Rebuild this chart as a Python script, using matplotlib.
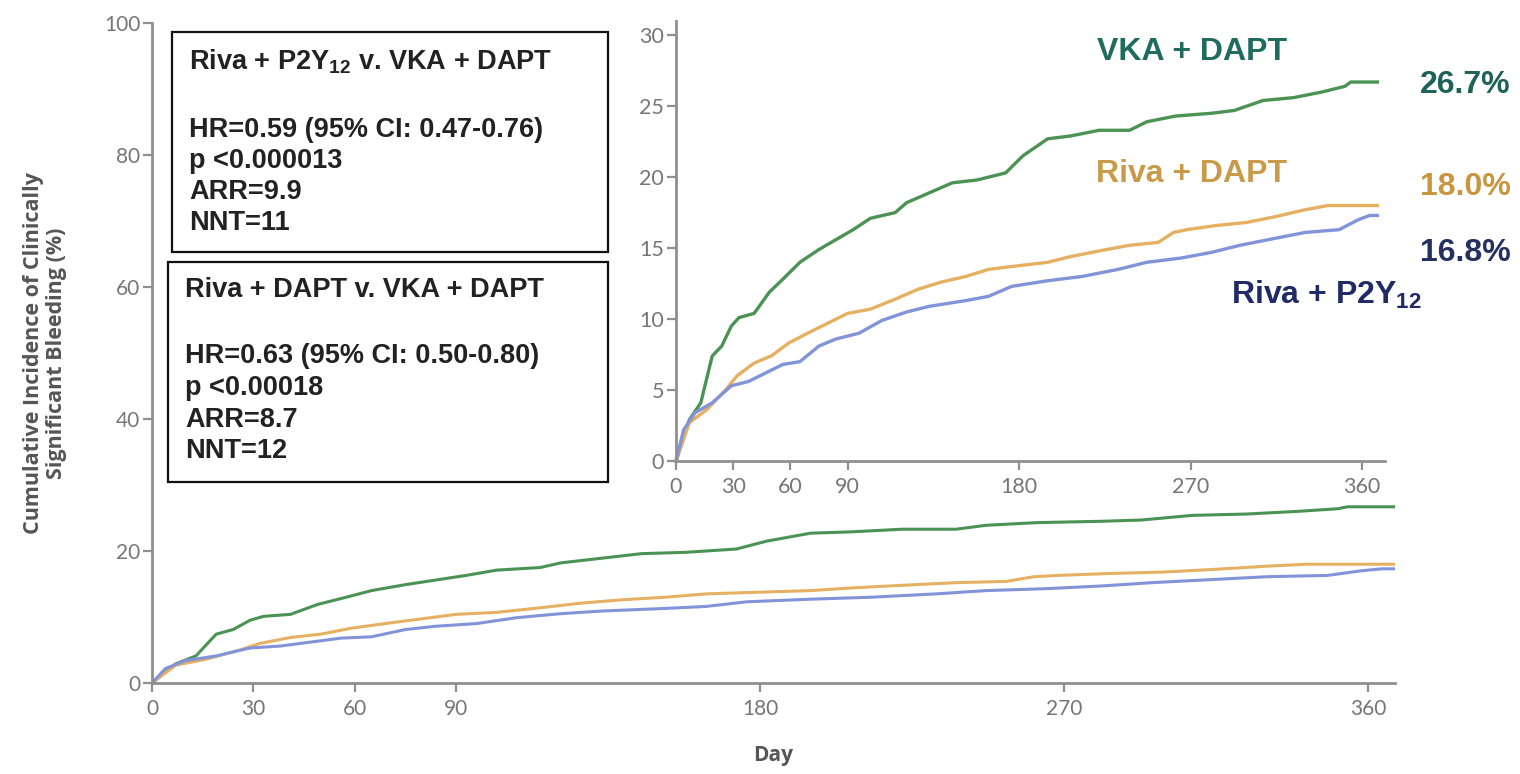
import matplotlib
matplotlib.use("Agg")
import matplotlib.pyplot as plt
from matplotlib.patches import Rectangle

# ---------------- data ----------------
vka_days = [0, 7, 13, 19, 24, 29, 33, 41, 49, 56, 65, 75, 84, 93, 102, 115, 121, 133, 145,
            158, 173, 182, 195, 207, 222, 238, 247, 262, 281, 293, 308, 324, 339, 351, 354, 368]
vka_vals = [0, 2.9, 4.1, 7.4, 8.1, 9.5, 10.1, 10.4, 11.9, 12.8, 14.0, 14.9, 15.6, 16.3, 17.1,
            17.5, 18.2, 18.9, 19.6, 19.8, 20.3, 21.5, 22.7, 22.9, 23.3, 23.3, 23.9, 24.3, 24.5,
            24.7, 25.4, 25.6, 26.0, 26.4, 26.7, 26.7]

rdapt_days = [0, 7, 16, 26, 32, 41, 50, 59, 69, 78, 90, 102, 115, 127, 139, 152, 164, 176,
              195, 207, 222, 238, 253, 261, 268, 284, 299, 314, 330, 342, 368]
rdapt_vals = [0, 2.7, 3.6, 5.0, 6.0, 6.9, 7.4, 8.3, 9.0, 9.6, 10.4, 10.7, 11.4, 12.1, 12.6,
              13.0, 13.5, 13.7, 14.0, 14.4, 14.8, 15.2, 15.4, 16.1, 16.3, 16.6, 16.8, 17.2,
              17.7, 18.0, 18.0]

rp2y_days = [0, 4, 10, 19, 29, 38, 47, 56, 65, 75, 84, 96, 108, 121, 133, 152, 164, 176, 195,
             213, 232, 247, 265, 281, 296, 311, 330, 348, 358, 364, 368]
rp2y_vals = [0, 2.2, 3.4, 4.1, 5.3, 5.6, 6.2, 6.8, 7.0, 8.1, 8.6, 9.0, 9.9, 10.5, 10.9, 11.3,
             11.6, 12.3, 12.7, 13.0, 13.5, 14.0, 14.3, 14.7, 15.2, 15.6, 16.1, 16.3, 17.0,
             17.3, 17.3]

x_ticks = [0, 30, 60, 90, 180, 270, 360]
main_y_ticks = [0, 20, 40, 60, 80, 100]
inset_y_ticks = [0, 5, 10, 15, 20, 25, 30]

series_names = ["VKA + DAPT", "Riva + DAPT", r"Riva + P2Y$_{12}$"]
final_pct = ["26.7%", "18.0%", "16.8%"]

box1_lines = [r"Riva + P2Y$_{12}$ v. VKA + DAPT", "", "HR=0.59 (95% CI: 0.47-0.76)",
              "p <0.000013", "ARR=9.9", "NNT=11"]
box2_lines = ["Riva + DAPT v. VKA + DAPT", "", "HR=0.63 (95% CI: 0.50-0.80)",
              "p <0.00018", "ARR=8.7", "NNT=12"]

# ---------------- style ----------------
plt.rcParams["mathtext.fontset"] = "custom"
plt.rcParams["mathtext.rm"] = "Liberation Sans:bold"
plt.rcParams["mathtext.it"] = "Liberation Sans:bold"
plt.rcParams["mathtext.bf"] = "Liberation Sans:bold"

GREEN = "#4b9354"
ORANGE = "#e6b062"
BLUE = "#8294d9"
AXIS_GRAY = "#8f8f8f"
TICK_TXT = "#767676"
tick_font = ["Lato", "DejaVu Sans"]

W, H = 1520, 774
fig = plt.figure(figsize=(W / 100, H / 100), dpi=100)


def fx(px):
    return px / W


def fy(py):
    return 1 - py / H


def style_axes(ax, yticks, size):
    for s in ["top", "right"]:
        ax.spines[s].set_visible(False)
    for s in ["left", "bottom"]:
        ax.spines[s].set_color(AXIS_GRAY)
        ax.spines[s].set_linewidth(2.0)
    ax.set_xticks(x_ticks)
    ax.set_yticks(yticks)
    ax.set_xticklabels([str(v) for v in x_ticks], family=tick_font)
    ax.set_yticklabels([str(v) for v in yticks], family=tick_font)
    ax.tick_params(colors=AXIS_GRAY, width=1.6, length=6.5, labelcolor=TICK_TXT,
                   labelsize=size)
    ax.tick_params(axis="x", pad=5)
    ax.tick_params(axis="y", pad=2)


# main axes
ax = fig.add_axes([fx(152), fy(683), fx(1395) - fx(152), fy(23) - fy(683)])
ax.plot(vka_days, vka_vals, color=GREEN, lw=2.2)
ax.plot(rdapt_days, rdapt_vals, color=ORANGE, lw=2.2)
ax.plot(rp2y_days, rp2y_vals, color=BLUE, lw=2.2)
ax.set_xlim(0, 368)
ax.set_ylim(0, 100)
style_axes(ax, main_y_ticks, 15)

# inset axes
ix0, ix1 = 676, 1385
iy0, iy1 = 461, 21
axi = fig.add_axes([fx(ix0), fy(iy0), fx(ix1) - fx(ix0), fy(iy1) - fy(iy0)])
axi.patch.set_alpha(0)
axi.plot(vka_days, vka_vals, color=GREEN, lw=2.4, clip_on=False)
axi.plot(rdapt_days, rdapt_vals, color=ORANGE, lw=2.4, clip_on=False)
axi.plot(rp2y_days, rp2y_vals, color=BLUE, lw=2.4, clip_on=False)
axi.set_xlim(0, 372)
axi.set_ylim(0, 31)
style_axes(axi, inset_y_ticks, 15.5)

# axis titles
fig.text(fx(45), fy(353), "Cumulative Incidence of Clinically\nSignificant Bleeding (%)",
         rotation=90, ha="center", va="center", multialignment="center",
         family=["Open Sans", "DejaVu Sans"], fontweight="bold", fontsize=15.5,
         color="#555555", linespacing=1.15)
fig.text(fx(773), fy(755), "Day", ha="center", va="center",
         family=["Open Sans", "DejaVu Sans"], fontweight="bold", fontsize=15, color="#555555")

# stat boxes
box_font = ["Liberation Sans", "DejaVu Sans"]
for (l, t, r, b), lines, ys in [
    ((172, 32, 608, 252), box1_lines, [62, None, 130, 161, 192, 223]),
    ((168, 262, 608, 482), box2_lines, [290, None, 356, 388, 420, 451]),
]:
    fig.patches.append(Rectangle((fx(l), fy(b)), fx(r) - fx(l), fy(t) - fy(b),
                                 transform=fig.transFigure, fill=False,
                                 edgecolor="#111111", lw=1.6))
    for txt, yy in zip(lines, ys):
        if yy is None:
            continue
        fig.text(fx(l + 17), fy(yy), txt, ha="left", va="center", family=box_font,
                 fontweight="bold", fontsize=19.5, color="#222222")

# series labels in the inset
lab_font = ["Liberation Sans", "DejaVu Sans"]
fig.text(fx(1192), fy(52), series_names[0], ha="center", va="center", family=lab_font,
         fontweight="bold", fontsize=23, color="#1f6b60")
fig.text(fx(1192), fy(174), series_names[1], ha="center", va="center", family=lab_font,
         fontweight="bold", fontsize=23, color="#c99a4a")
fig.text(fx(1231), fy(304), series_names[2], ha="left", va="baseline", family=lab_font,
         fontweight="bold", fontsize=23, color="#1f2a66")

fig.text(fx(1420), fy(85), final_pct[0], ha="left", va="center", family=lab_font,
         fontweight="bold", fontsize=23, color="#1f625a")
fig.text(fx(1420), fy(187), final_pct[1], ha="left", va="center", family=lab_font,
         fontweight="bold", fontsize=23, color="#c8963f")
fig.text(fx(1420), fy(253), final_pct[2], ha="left", va="center", family=lab_font,
         fontweight="bold", fontsize=23, color="#243160")

fig.savefig("out.png", dpi=100)
